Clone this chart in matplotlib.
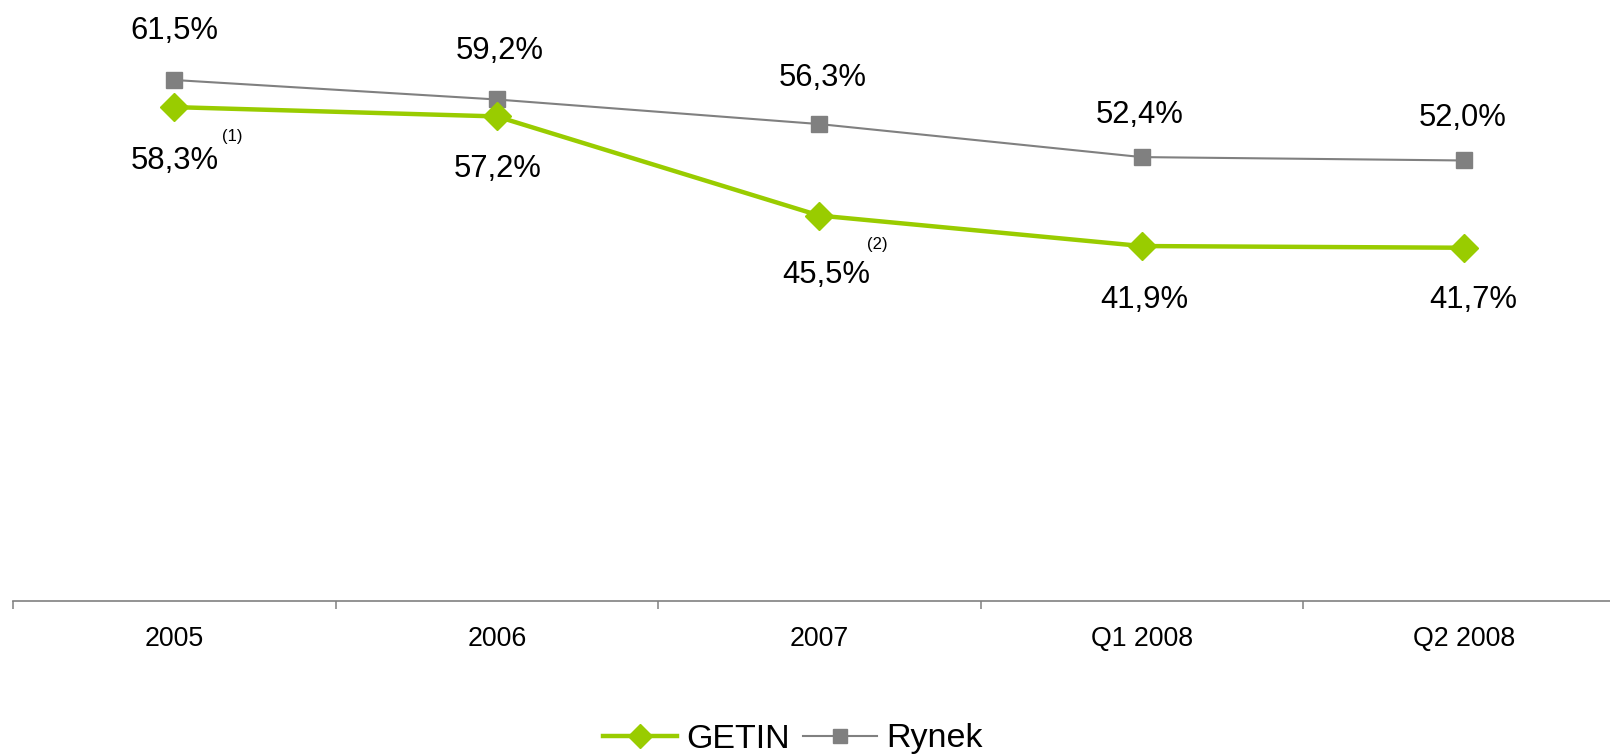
import matplotlib
matplotlib.use("Agg")
import matplotlib.pyplot as plt
from matplotlib.lines import Line2D

plt.rcParams['font.family'] = ['Liberation Sans', 'DejaVu Sans']

categories = ["2005", "2006", "2007", "Q1 2008", "Q2 2008"]
getin = [58.3, 57.2, 45.5, 41.9, 41.7]
rynek = [61.5, 59.2, 56.3, 52.4, 52.0]
getin_labels = ["58,3%", "57,2%", "45,5%", "41,9%", "41,7%"]
rynek_labels = ["61,5%", "59,2%", "56,3%", "52,4%", "52,0%"]
footnotes = {0: "(1)", 2: "(2)"}

GREEN = "#99CC00"
GREY = "#808080"

# label offsets in points (dx, dy)
rynek_off = [(0, 35), (2, 35), (2.5, 33), (-1.5, 30.5), (-1.5, 30.5)]
getin_off = [(0.5, -39), (0.5, -37.5), (5, -43), (1.5, -38.5), (6.5, -37.5)]

fig = plt.figure(figsize=(16.1, 7.55), dpi=100)
ax = fig.add_axes([13 / 1610, (755 - 601) / 755, 1612.5 / 1610, 593 / 755])

x = list(range(len(categories)))
ax.plot(x, rynek, color=GREY, lw=1.5, marker='s', markersize=11,
        markerfacecolor=GREY, markeredgecolor=GREY, zorder=3)
ax.plot(x, getin, color=GREEN, lw=3.2, marker='D', markersize=13.8,
        markerfacecolor=GREEN, markeredgecolor=GREEN, zorder=4)

for i in x:
    ax.annotate(rynek_labels[i], (i, rynek[i]), xytext=rynek_off[i],
                textcoords='offset points', ha='center', va='center',
                fontsize=22.3, color='black')
    ax.annotate(getin_labels[i], (i, getin[i]), xytext=getin_off[i],
                textcoords='offset points', ha='center', va='center',
                fontsize=22.3, color='black')
    if i in footnotes:
        ax.annotate(footnotes[i], (i, getin[i]), xytext=(41.5, -21),
                    textcoords='offset points', ha='center', va='center',
                    fontsize=12, color='black')

ax.set_xlim(-0.5, len(categories) - 0.5)
ax.set_ylim(0, 70)

for s in ['top', 'right', 'left']:
    ax.spines[s].set_visible(False)
ax.spines['bottom'].set_color(GREY)
ax.spines['bottom'].set_linewidth(1.2)
ax.set_yticks([])

ax.set_xticks([i - 0.5 for i in range(len(categories) + 1)])
ax.set_xticklabels([])
ax.tick_params(axis='x', which='major', direction='out', length=5.8,
               width=1.1, color=GREY)
ax.set_xticks(x, minor=True)
ax.set_xticklabels(categories, minor=True)
ax.tick_params(axis='x', which='minor', length=0, pad=18, labelsize=19.3)

handles = [
    Line2D([], [], color=GREEN, lw=3.2, marker='D', markersize=12,
           markerfacecolor=GREEN, markeredgecolor=GREEN),
    Line2D([], [], color=GREY, lw=1.5, marker='s', markersize=10,
           markerfacecolor=GREY, markeredgecolor=GREY),
]
fig.legend(handles, ["GETIN", "Rynek"], loc='center', ncol=2,
           bbox_to_anchor=(793 / 1610, 1 - 739 / 755), frameon=False,
           fontsize=24.5, handlelength=2.15, handletextpad=0.28,
           columnspacing=0.4, borderpad=0, borderaxespad=0)

fig.savefig("out.png", dpi=100)
